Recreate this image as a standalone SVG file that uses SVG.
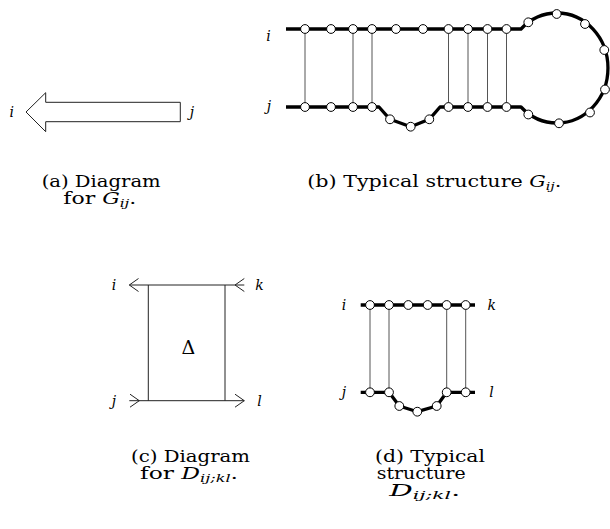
<svg xmlns="http://www.w3.org/2000/svg" width="610" height="529" viewBox="0 0 610 529">
<style>
text{font-family:"DejaVu Serif","Liberation Serif",serif;fill:#000}
.cap{font-size:16px}
.lab{font-size:14px;font-style:italic}
.it{font-style:italic}
.sub{font-size:11px;font-style:italic}
.strand{fill:none;stroke:#000;stroke-width:3.3;stroke-linejoin:round}
.bond{stroke:#555;stroke-width:1}
.thin{fill:none;stroke:#222;stroke-width:1}
.base{fill:#fff;stroke:#000;stroke-width:1}
</style>
<defs>
<circle id="b" r="4.4" class="base"/>
</defs>

<!-- (a) -->
<g id="diagram-a">
<polygon class="thin" points="26,112 45.7,92.7 45.7,102.3 180.3,102.3 180.3,121.7 45.7,121.7 45.7,131.7"/>
<text class="lab" x="11.7" y="116.5" text-anchor="middle">i</text>
<text class="lab" x="192" y="116.5" text-anchor="middle">j</text>
</g>
<g id="caption-a">
<text class="cap" x="41.7" y="187" textLength="119" lengthAdjust="spacingAndGlyphs">(a) Diagram</text>
<text class="cap" x="63.3" y="204" textLength="73" lengthAdjust="spacingAndGlyphs">for <tspan class="it">G</tspan><tspan class="sub" dy="3">ij</tspan><tspan dy="-3">.</tspan></text>
</g>

<!-- (b) -->
<g id="connectors-b">
<line class="bond" x1="305" y1="29" x2="305" y2="107"/>
<line class="bond" x1="353" y1="29" x2="353" y2="107"/>
<line class="bond" x1="372" y1="29" x2="372" y2="107"/>
<line class="bond" x1="448.5" y1="29" x2="448.5" y2="107"/>
<line class="bond" x1="468" y1="29" x2="468" y2="107"/>
<line class="bond" x1="487.5" y1="29" x2="487.5" y2="107"/>
<line class="bond" x1="506.5" y1="29" x2="506.5" y2="107"/>
</g>
<g id="strand-b">
<path class="strand" d="M286,29 H514 L521,29 A51,55 0 1 1 521,107 L514,107 H440 L429.3,119.3 L410.7,126.7 L390,119.3 L379,107 H286"/>
</g>
<g id="bases-b">
<use href="#b" x="305" y="29"/><use href="#b" x="331" y="29"/><use href="#b" x="353" y="29"/><use href="#b" x="372" y="29"/>
<use href="#b" x="396" y="29"/><use href="#b" x="423" y="29"/><use href="#b" x="448.5" y="29"/><use href="#b" x="468" y="29"/>
<use href="#b" x="487.5" y="29"/><use href="#b" x="506.5" y="29"/>
<use href="#b" x="305" y="107"/><use href="#b" x="331" y="107"/><use href="#b" x="353" y="107"/><use href="#b" x="372" y="107"/>
<use href="#b" x="390" y="119.3"/><use href="#b" x="410.7" y="126.7"/><use href="#b" x="429.3" y="119.3"/>
<use href="#b" x="448.5" y="107"/><use href="#b" x="468" y="107"/><use href="#b" x="487.5" y="107"/><use href="#b" x="506.5" y="107"/>
<use href="#b" x="528.3" y="22.3"/><use href="#b" x="556.7" y="14"/><use href="#b" x="585" y="24"/><use href="#b" x="604.3" y="50"/>
<use href="#b" x="605" y="89.5"/><use href="#b" x="590" y="112.5"/><use href="#b" x="559" y="123.3"/><use href="#b" x="528.3" y="114.5"/>
</g>
<g id="labels-b">
<text class="lab" x="268.5" y="41" text-anchor="middle">i</text>
<text class="lab" x="269" y="111" text-anchor="middle">j</text>
</g>
<g id="caption-b">
<text class="cap" x="307.3" y="187.3" textLength="254" lengthAdjust="spacingAndGlyphs">(b) Typical structure <tspan class="it">G</tspan><tspan class="sub" dy="3">ij</tspan><tspan dy="-3">.</tspan></text>
</g>

<!-- (c) -->
<g id="diagram-c">
<line class="thin" x1="129.3" y1="285" x2="244.3" y2="285"/>
<line class="thin" x1="129.3" y1="400.7" x2="244.3" y2="400.7"/>
<line class="thin" x1="148.3" y1="285" x2="148.3" y2="400.7"/>
<line class="thin" x1="225" y1="285" x2="225" y2="400.7"/>
<polyline class="thin" points="138.5,278.5 129.3,285 138.5,291.5"/>
<polyline class="thin" points="244.3,278.5 235,285 244.3,291.5"/>
<polyline class="thin" points="130,394.2 139.3,400.7 130,407.2"/>
<polyline class="thin" points="235,394.2 244.3,400.7 235,407.2"/>
<text x="188.3" y="353.5" font-size="19" text-anchor="middle">Δ</text>
<text class="lab" x="114" y="290" text-anchor="middle">i</text>
<text class="lab" x="259.5" y="290" text-anchor="middle">k</text>
<text class="lab" x="114" y="405.5" text-anchor="middle">j</text>
<text class="lab" x="259.5" y="405.5" text-anchor="middle">l</text>
</g>
<g id="caption-c">
<text class="cap" x="131" y="461.7" textLength="119" lengthAdjust="spacingAndGlyphs">(c) Diagram</text>
<text class="cap" x="140" y="478.5" textLength="98" lengthAdjust="spacingAndGlyphs">for <tspan class="it">D</tspan><tspan class="sub" dy="3">ij;kl</tspan><tspan dy="-3">.</tspan></text>
</g>

<!-- (d) -->
<g id="connectors-d">
<line class="bond" x1="370" y1="305" x2="370" y2="392.3"/>
<line class="bond" x1="389" y1="305" x2="389" y2="392.3"/>
<line class="bond" x1="446.7" y1="305" x2="446.7" y2="392.3"/>
<line class="bond" x1="465.7" y1="305" x2="465.7" y2="392.3"/>
</g>
<g id="strand-d">
<path class="strand" d="M360.7,305 H475"/>
<path class="strand" d="M360.7,392.3 H389 L399.3,406 L417.3,411.7 L436.7,406 L446.7,392.3 H475"/>
</g>
<g id="bases-d">
<use href="#b" x="370" y="305"/><use href="#b" x="389" y="305"/><use href="#b" x="408.3" y="305"/><use href="#b" x="427.7" y="305"/><use href="#b" x="446.7" y="305"/><use href="#b" x="465.7" y="305"/>
<use href="#b" x="370" y="392.3"/><use href="#b" x="389" y="392.3"/><use href="#b" x="399.3" y="406"/><use href="#b" x="417.3" y="411.7"/><use href="#b" x="436.7" y="406"/><use href="#b" x="446.7" y="392.3"/><use href="#b" x="465.7" y="392.3"/>
</g>
<g id="labels-d">
<text class="lab" x="344" y="310" text-anchor="middle">i</text>
<text class="lab" x="491.7" y="310" text-anchor="middle">k</text>
<text class="lab" x="344" y="397" text-anchor="middle">j</text>
<text class="lab" x="491.5" y="397" text-anchor="middle">l</text>
</g>
<g id="caption-d">
<text class="cap" x="375" y="461.7" textLength="110" lengthAdjust="spacingAndGlyphs">(d) Typical</text>
<text class="cap" x="376.7" y="478.5" textLength="89" lengthAdjust="spacingAndGlyphs">structure</text>
<text class="cap" x="389.3" y="496" textLength="71" lengthAdjust="spacingAndGlyphs"><tspan class="it">D</tspan><tspan class="sub" dy="3">ij;kl</tspan><tspan dy="-3">.</tspan></text>
</g>
</svg>
